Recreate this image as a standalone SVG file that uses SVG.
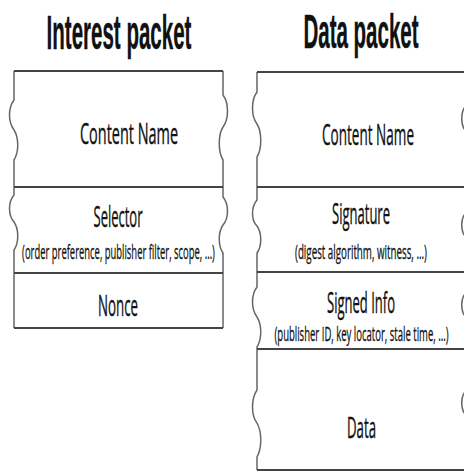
<svg xmlns="http://www.w3.org/2000/svg" width="464" height="473" viewBox="0 0 464 473">
<style>
.title{font-family:"Liberation Sans",Arial,sans-serif;font-weight:bold;font-size:49px;fill:#111;stroke:#111;stroke-width:0.4;text-anchor:middle}
.lbl{font-family:"Open Sans","Liberation Sans",sans-serif;font-size:30px;fill:#111;stroke:#111;stroke-width:0.4;text-anchor:middle}
.sub{font-family:"Open Sans","Liberation Sans",sans-serif;font-size:20px;fill:#111;stroke:#111;stroke-width:0.3;text-anchor:middle}
.h{stroke:#444;stroke-width:2.2;fill:none}
.v{stroke:#666;stroke-width:1.5;fill:none}
</style>
<rect width="464" height="473" fill="#fff"/>
<g id="interest">
<text class="title" transform="translate(119,49) scale(0.42,1)" textLength="345" lengthAdjust="spacingAndGlyphs">Interest packet</text>
<path class="v" d="M14,71 V100 c-6,8 -6,22 0,30 c5,8 5,22 0,30 V195 c-6,7 -6,20 0,27 c5,7 5,21 0,28 V328"/>
<path class="v" d="M223,71 V95 c6,8 6,24 0,32 c-5,8 -5,25 0,33 V197 c6,7 6,21 0,28 c-5,7 -5,21 0,28 V328"/>
<path class="h" d="M14,71 H223 M14,187 H223 M14,273 H223 M14,328 H223"/>
<g id="i-name"><text class="lbl" transform="translate(129,144) scale(0.5,1)" textLength="196" lengthAdjust="spacingAndGlyphs">Content Name</text></g>
<g id="i-selector"><text class="lbl" transform="translate(118,227) scale(0.5,1)" textLength="98" lengthAdjust="spacingAndGlyphs">Selector</text>
<text class="sub" transform="translate(118.5,259) scale(0.4,1)" textLength="482" lengthAdjust="spacingAndGlyphs">(order preference, publisher filter, scope, ...)</text></g>
<g id="i-nonce"><text class="lbl" transform="translate(118,316) scale(0.5,1)" textLength="80" lengthAdjust="spacingAndGlyphs">Nonce</text></g>
</g>
<g id="data">
<text class="title" transform="translate(361,48) scale(0.42,1)" textLength="274" lengthAdjust="spacingAndGlyphs">Data packet</text>
<path class="v" d="M257,72 V92 c-6,8 -6,24 0,32 c5,8 5,25 0,33 V200 c-6,7 -6,20 0,26 c5,7 5,20 0,27 V287 c-6,8 -6,22 0,30 c5,8 5,22 0,30 V390 c-6,9 -6,25 0,33 c5,9 5,25 0,34 V470"/>
<path class="v" d="M467,72 V105 c-7,5 -7,22 0,27 V212 c-7,5 -7,21 0,26 V292 c-7,5 -7,21 0,26 V390 c-7,5 -7,21 0,26 V470"/>
<path class="h" d="M257,72 H467 M257,187 H467 M257,272 H467 M257,349 H467 M257,470 H467"/>
<g id="d-name"><text class="lbl" transform="translate(368,145) scale(0.5,1)" textLength="184" lengthAdjust="spacingAndGlyphs">Content Name</text></g>
<g id="d-signature"><text class="lbl" transform="translate(361,224) scale(0.5,1)" textLength="116" lengthAdjust="spacingAndGlyphs">Signature</text>
<text class="sub" transform="translate(361,259) scale(0.4,1)" textLength="330" lengthAdjust="spacingAndGlyphs">(digest algorithm, witness, ...)</text></g>
<g id="d-signedinfo"><text class="lbl" transform="translate(361,313) scale(0.5,1)" textLength="136" lengthAdjust="spacingAndGlyphs">Signed Info</text>
<text class="sub" transform="translate(361.5,341) scale(0.4,1)" textLength="435" lengthAdjust="spacingAndGlyphs">(publisher ID, key locator, stale time, ...)</text></g>
<g id="d-data"><text class="lbl" transform="translate(361.5,438) scale(0.5,1)" textLength="58" lengthAdjust="spacingAndGlyphs">Data</text></g>
</g>
<g id="connectors"/>
</svg>
